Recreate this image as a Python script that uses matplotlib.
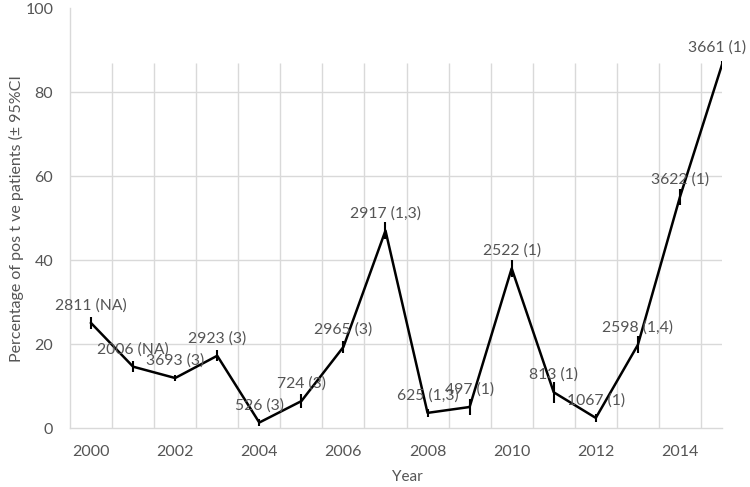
import matplotlib
matplotlib.use("Agg")
import matplotlib.pyplot as plt
import numpy as np

years = [2000, 2001, 2002, 2003, 2004, 2005, 2006, 2007, 2008, 2009, 2010, 2011, 2012, 2013, 2014, 2015]
percent = [25.0, 14.6, 11.9, 17.2, 1.3, 6.4, 19.3, 47.0, 3.6, 5.0, 38.0, 8.5, 2.4, 19.8, 55.0, 86.5]
ci = [1.4, 1.3, 0.8, 1.3, 0.8, 1.6, 1.5, 2.0, 1.0, 2.0, 2.0, 2.5, 1.0, 2.0, 2.0, 1.0]
labels = ["2811 (NA)", "2006 (NA)", "3693 (3)", "2923 (3)", "526 (3)", "724 (3)", "2965 (3)",
          "2917 (1,3)", "625 (1,3)", "497 (1)", "2522 (1)", "813 (1)", "1067 (1)", "2598 (1,4)",
          "3622 (1)", "3661 (1)"]
xtick_years = [2000, 2002, 2004, 2006, 2008, 2010, 2012, 2014]
ytick_vals = [0, 20, 40, 60, 80, 100]

plt.rcParams['font.family'] = ['Lato', 'DejaVu Sans']
TXT = '#555555'
GRID = '#d9d9d9'

fig = plt.figure(figsize=(7.5, 4.87), dpi=100)
ax = fig.add_axes([70/750, 59/487, (722-70)/750, (428-8)/487])

ax.set_xlim(1999.5, 2015)
ax.set_ylim(0, 100)

# gridlines
for y in [20, 40, 60, 80]:
    ax.axhline(y, color=GRID, lw=1.0, zorder=0)
for xg in np.arange(2000.5, 2015, 1.0):
    ax.vlines(xg, 0, 87, color=GRID, lw=1.0, zorder=0)

ax.errorbar(years, percent, yerr=ci, color='black', lw=1.8, elinewidth=1.5, capsize=0, zorder=3)

n = len(years)
for i, (x, y, t) in enumerate(zip(years, percent, labels)):
    dx = -3.5 if i == n - 1 else 0
    ax.annotate(t, (x, y), xytext=(dx, 12.5), textcoords='offset points',
                ha='center', va='center', fontsize=11.3, color=TXT, zorder=4,
                annotation_clip=False)

for s in ['top', 'right']:
    ax.spines[s].set_visible(False)
ax.spines['left'].set_color(GRID)
ax.spines['bottom'].set_color(GRID)
ax.spines['left'].set_linewidth(1.0)
ax.spines['bottom'].set_linewidth(1.0)

ax.set_xticks(xtick_years)
ax.set_xticklabels([str(v) for v in xtick_years])
ax.set_yticks(ytick_vals)
ax.tick_params(axis='both', length=0, labelsize=11.5, colors=TXT)
ax.tick_params(axis='x', pad=12)
ax.tick_params(axis='y', pad=12)

ax.set_ylabel("Percentage of pos t ve patients (\u00b1 95%CI", fontsize=11.5, color=TXT)
ax.yaxis.set_label_coords(-(70-24)/652, (428-219)/420)
ax.set_xlabel("Year", fontsize=11, color=TXT)
ax.xaxis.set_label_coords((407-70)/652, -(470-428)/420)

fig.savefig("out.png", dpi=100)
